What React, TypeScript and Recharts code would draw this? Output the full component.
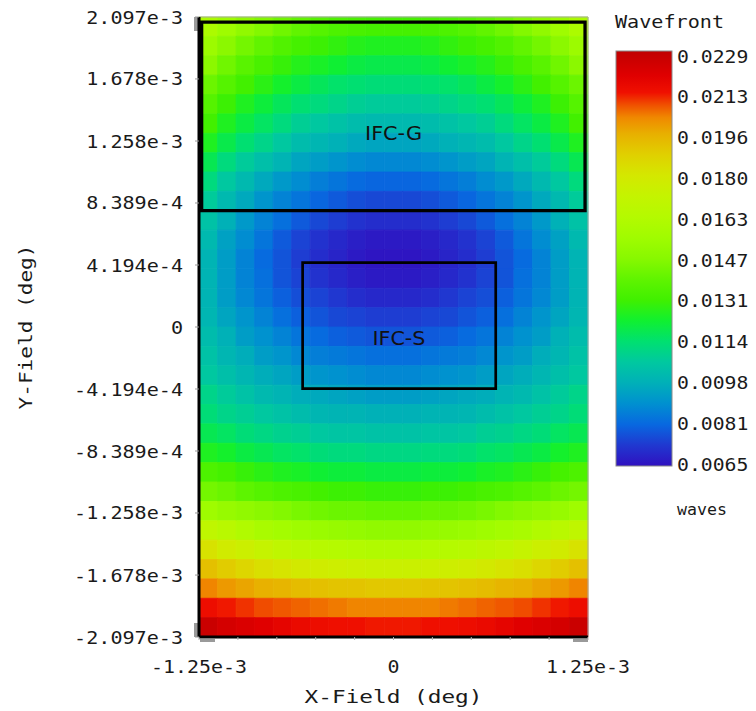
import React from 'react';
import { ScatterChart, XAxis, YAxis, ReferenceArea, ReferenceDot, Customized } from 'recharts';

// field extent (deg)
const X_MIN = -1.25e-3;
const X_MAX = 1.25e-3;
const Y_MIN = -2.097e-3;
const Y_MAX = 2.097e-3;

const X_TICKS = [-1.25e-3, -1.0e-3, -0.75e-3, -0.5e-3, -0.25e-3, 0, 0.25e-3, 0.5e-3, 0.75e-3, 1.0e-3, 1.25e-3];
const X_TICK_LABELS = ['-1.25e-3', '', '', '', '', '0', '', '', '', '', '1.25e-3'];
const Y_TICKS = [2.097e-3, 1.678e-3, 1.258e-3, 8.389e-4, 4.194e-4, 0, -4.194e-4, -8.389e-4, -1.258e-3, -1.678e-3, -2.097e-3];
const Y_TICK_LABELS = ['2.097e-3', '1.678e-3', '1.258e-3', '8.389e-4', '4.194e-4', '0', '-4.194e-4', '-8.389e-4', '-1.258e-3', '-1.678e-3', '-2.097e-3'];

// wavefront error in units of 1e-4 waves, rows top -> bottom, columns left -> right
const WAVEFRONT_E4: number[][] = [
  [160, 155, 150, 146, 142, 139, 136, 134, 133, 132, 132, 132, 133, 134, 136, 139, 142, 146, 150, 155, 160],
  [154, 148, 143, 139, 135, 132, 130, 128, 126, 125, 125, 125, 126, 128, 130, 132, 135, 139, 143, 148, 154],
  [148, 142, 137, 133, 129, 126, 124, 122, 120, 119, 119, 119, 120, 122, 124, 126, 129, 133, 137, 142, 148],
  [141, 136, 131, 127, 123, 120, 117, 115, 114, 113, 113, 113, 114, 115, 117, 120, 123, 127, 131, 136, 141],
  [136, 130, 125, 121, 117, 114, 112, 110, 108, 107, 107, 107, 108, 110, 112, 114, 117, 121, 125, 130, 136],
  [131, 125, 120, 116, 112, 108, 106, 104, 102, 101, 101, 101, 102, 104, 106, 108, 112, 116, 120, 125, 131],
  [125, 119, 114, 110, 106, 102, 100, 98, 96, 95, 95, 95, 96, 98, 100, 102, 106, 110, 114, 119, 125],
  [118, 112, 107, 103, 99, 95, 93, 91, 89, 88, 88, 88, 89, 91, 93, 95, 99, 103, 107, 112, 118],
  [112, 106, 101, 96, 92, 89, 86, 84, 82, 81, 81, 81, 82, 84, 86, 89, 92, 96, 101, 106, 112],
  [107, 101, 96, 91, 87, 84, 81, 79, 77, 76, 76, 76, 77, 79, 81, 84, 87, 91, 96, 101, 107],
  [104, 98, 92, 87, 83, 79, 76, 74, 72, 71, 71, 71, 72, 74, 76, 79, 83, 87, 92, 98, 104],
  [101, 94, 89, 84, 79, 75, 72, 70, 68, 67, 67, 67, 68, 70, 72, 75, 79, 84, 89, 94, 101],
  [99, 93, 87, 82, 78, 74, 71, 69, 67, 66, 66, 66, 67, 69, 71, 74, 78, 82, 87, 93, 99],
  [99, 93, 87, 83, 78, 75, 72, 70, 68, 67, 67, 67, 68, 70, 72, 75, 78, 83, 87, 93, 99],
  [99, 93, 88, 84, 80, 77, 75, 73, 71, 70, 70, 70, 71, 73, 75, 77, 80, 84, 88, 93, 99],
  [100, 95, 91, 87, 83, 80, 78, 76, 75, 74, 74, 74, 75, 76, 78, 80, 83, 87, 91, 95, 100],
  [102, 98, 93, 90, 87, 84, 82, 80, 79, 78, 78, 78, 79, 80, 82, 84, 87, 90, 93, 98, 102],
  [104, 100, 97, 93, 91, 88, 86, 85, 84, 83, 83, 83, 84, 85, 86, 88, 91, 93, 97, 100, 104],
  [106, 103, 100, 97, 95, 93, 91, 90, 89, 88, 88, 88, 89, 90, 91, 93, 95, 97, 100, 103, 106],
  [110, 107, 104, 101, 99, 97, 96, 95, 94, 93, 93, 93, 94, 95, 96, 97, 99, 101, 104, 107, 110],
  [113, 110, 108, 106, 104, 102, 100, 99, 99, 98, 98, 98, 99, 99, 100, 102, 104, 106, 108, 110, 113],
  [118, 116, 113, 111, 109, 108, 106, 105, 105, 104, 104, 104, 105, 105, 106, 108, 109, 111, 113, 116, 118],
  [125, 123, 120, 118, 116, 115, 113, 112, 112, 111, 111, 111, 112, 112, 113, 115, 116, 118, 120, 123, 125],
  [134, 132, 129, 127, 125, 124, 122, 121, 121, 120, 120, 120, 121, 121, 122, 124, 125, 127, 129, 132, 134],
  [143, 141, 138, 136, 134, 133, 131, 130, 130, 129, 129, 129, 130, 130, 131, 133, 134, 136, 138, 141, 143],
  [155, 152, 150, 148, 146, 144, 142, 141, 141, 140, 140, 140, 141, 141, 142, 144, 146, 148, 150, 152, 155],
  [169, 166, 162, 159, 157, 155, 153, 152, 151, 150, 150, 150, 151, 152, 153, 155, 157, 159, 162, 166, 169],
  [182, 178, 175, 172, 169, 167, 165, 164, 163, 162, 162, 162, 163, 164, 165, 167, 169, 172, 175, 178, 182],
  [192, 189, 186, 183, 181, 179, 177, 176, 175, 174, 174, 174, 175, 176, 177, 179, 181, 183, 186, 189, 192],
  [203, 200, 198, 196, 195, 193, 192, 191, 191, 190, 190, 190, 191, 191, 192, 193, 195, 196, 198, 200, 203],
  [214, 212, 210, 208, 207, 206, 205, 204, 203, 203, 203, 203, 203, 204, 205, 206, 207, 208, 210, 212, 214],
  [226, 223, 221, 219, 217, 215, 214, 213, 213, 212, 212, 212, 213, 213, 214, 215, 217, 219, 221, 223, 226],
];

const WAVE_MIN = 0.0065;
const WAVE_MAX = 0.0229;
const LEGEND_LABELS = ['0.0229', '0.0213', '0.0196', '0.0180', '0.0163', '0.0147', '0.0131', '0.0114', '0.0098', '0.0081', '0.0065'];

// field regions drawn on top of the map
const REGION_NAMES = ['IFC-G', 'IFC-S'];
const REGION_X = [[-1.233e-3, 1.231e-3], [-0.584e-3, 0.657e-3]];
const REGION_Y = [[0.787e-3, 2.062e-3], [-0.417e-3, 0.435e-3]];
const REGION_LABEL_AT = [[0, 1.319e-3], [0.035e-3, -0.068e-3]];

const COLOR_STOPS: [number, string][] = [
  [0.0, '#3010c0'],
  [0.05, '#2038d0'],
  [0.1, '#0868e0'],
  [0.15, '#0090d0'],
  [0.2, '#00b0b8'],
  [0.25, '#00c8a0'],
  [0.3, '#00e070'],
  [0.35, '#10f030'],
  [0.4, '#40f000'],
  [0.45, '#60f400'],
  [0.5, '#88f800'],
  [0.55, '#a0fc00'],
  [0.6, '#b4fa00'],
  [0.65, '#c4f400'],
  [0.7, '#d4e800'],
  [0.75, '#e0d000'],
  [0.8, '#e8b000'],
  [0.84, '#f08800'],
  [0.87, '#f05000'],
  [0.9, '#f01000'],
  [0.94, '#e00000'],
  [1.0, '#c00000'],
];

const hex = (c: string) => [1, 3, 5].map((k) => parseInt(c.slice(k, k + 2), 16));

function waveColor(v: number) {
  const t = Math.min(1, Math.max(0, (v - WAVE_MIN) / (WAVE_MAX - WAVE_MIN)));
  for (let k = 1; k < COLOR_STOPS.length; k++) {
    const [t1, c1] = COLOR_STOPS[k];
    if (t <= t1) {
      const [t0, c0] = COLOR_STOPS[k - 1];
      const f = (t - t0) / (t1 - t0);
      const a = hex(c0);
      const b = hex(c1);
      const rgb = a.map((q, n) => Math.round(q + (b[n] - q) * f));
      return `rgb(${rgb[0]},${rgb[1]},${rgb[2]})`;
    }
  }
  return COLOR_STOPS[COLOR_STOPS.length - 1][1];
}

const NX = WAVEFRONT_E4[0].length;
const NY = WAVEFRONT_E4.length;
const cells = WAVEFRONT_E4.flatMap((row, j) =>
  row.map((v, i) => ({
    x1: X_MIN + (i * (X_MAX - X_MIN)) / NX,
    x2: X_MIN + ((i + 1) * (X_MAX - X_MIN)) / NX,
    y1: Y_MAX - (j * (Y_MAX - Y_MIN)) / NY,
    y2: Y_MAX - ((j + 1) * (Y_MAX - Y_MIN)) / NY,
    color: waveColor(v * 1e-4),
  }))
);

const MONO = 'DejaVu Sans Mono';

const YTick = (props: any) => {
  const { x, y, payload } = props;
  const i = Y_TICKS.findIndex((t) => Math.abs(t - payload.value) < 1e-9);
  const label = Y_TICK_LABELS[i] ?? '';
  return (
    <text x={x - 12} y={y + 6.5} textAnchor="end" fontFamily={MONO} fontSize={18} fill="#1a1a1a"
      textLength={label.length * 12.1} lengthAdjust="spacingAndGlyphs">
      {label}
    </text>
  );
};

const XTick = (props: any) => {
  const { x, y, payload } = props;
  const i = X_TICKS.findIndex((t) => Math.abs(t - payload.value) < 1e-9);
  const label = X_TICK_LABELS[i] ?? '';
  if (!label) return <g />;
  return (
    <text x={x} y={y + 33} textAnchor="middle" fontFamily={MONO} fontSize={18} fill="#1a1a1a"
      textLength={label.length * 12} lengthAdjust="spacingAndGlyphs">
      {label}
    </text>
  );
};

const XTitle = (props: any) => {
  const { viewBox } = props;
  return (
    <text x={viewBox.x + viewBox.width / 2} y={viewBox.y + 66} textAnchor="middle" fontFamily={MONO}
      fontSize={17} fill="#1a1a1a" textLength={178} lengthAdjust="spacingAndGlyphs">
      X-Field (deg)
    </text>
  );
};

const YTitle = (props: any) => {
  const { viewBox } = props;
  const cy = viewBox.y + viewBox.height / 2;
  return (
    <text x={32} y={cy} transform={`rotate(-90, 32, ${cy})`} textAnchor="middle" fontFamily={MONO}
      fontSize={18} fill="#1a1a1a" textLength={165} lengthAdjust="spacingAndGlyphs">
      Y-Field (deg)
    </text>
  );
};

const Colorbar = () => {
  const top = 51;
  const height = 415;
  const step = (464 - 56) / (LEGEND_LABELS.length - 1);
  return (
    <g>
      <defs>
        <linearGradient id="waveGrad" x1="0" y1="1" x2="0" y2="0">
          {COLOR_STOPS.map(([t, c]) => (
            <stop key={t} offset={t} stopColor={c} />
          ))}
        </linearGradient>
      </defs>
      <text x={615} y={28} fontFamily={MONO} fontSize={17} fill="#1a1a1a" textLength={109} lengthAdjust="spacingAndGlyphs">
        Wavefront
      </text>
      <rect x={616} y={top} width={56} height={height} fill="url(#waveGrad)" stroke="#8a8a8a" strokeWidth={1} />
      {LEGEND_LABELS.map((l, k) => (
        <text key={l} x={677} y={56 + k * step + 6.5} fontFamily={MONO} fontSize={17} fill="#1a1a1a"
          textLength={l.length * 11.9} lengthAdjust="spacingAndGlyphs">
          {l}
        </text>
      ))}
      <text x={677} y={515} fontFamily={MONO} fontSize={15} fill="#1a1a1a" textLength={50} lengthAdjust="spacingAndGlyphs">
        waves
      </text>
      {/* little grey axis handles */}
      <rect x={194} y={17} width={4} height={14} fill="#9a9a9a" />
      <rect x={194} y={623} width={4} height={14} fill="#9a9a9a" />
      <rect x={200} y={639} width={15} height={3} fill="#9a9a9a" />
      <rect x={573} y={639} width={15} height={3} fill="#9a9a9a" />
    </g>
  );
};

export default function App() {
  return (
    <div style={{ position: 'absolute', left: 0, top: 0, width: 756, height: 711, background: '#fff' }}>
      <ScatterChart width={756} height={711} margin={{ top: 17, right: 168, bottom: 0, left: 0 }}>
        <XAxis type="number" dataKey="x" domain={[X_MIN, X_MAX]} ticks={X_TICKS} interval={0} height={74}
          allowDataOverflow tick={<XTick />} tickSize={3} tickMargin={0}
          axisLine={{ stroke: '#000', strokeWidth: 3 }} tickLine={{ stroke: '#b0b0b0' }} label={<XTitle />} />
        <YAxis type="number" dataKey="y" domain={[Y_MIN, Y_MAX]} ticks={Y_TICKS} interval={0} width={199}
          allowDataOverflow tick={<YTick />} tickSize={4} tickMargin={0}
          axisLine={{ stroke: '#000', strokeWidth: 3 }} tickLine={{ stroke: '#999' }} label={<YTitle />} />
        {cells.map((c, k) => (
          <ReferenceArea key={`c${k}`} x1={c.x1} x2={c.x2} y1={c.y2} y2={c.y1} fill={c.color} fillOpacity={1}
            stroke={c.color} strokeWidth={0.8} ifOverflow="visible" />
        ))}
        <ReferenceArea x1={X_MIN} x2={X_MAX} y1={Y_MIN} y2={Y_MAX} fill="none" stroke="#a8a8a8" strokeWidth={1} ifOverflow="visible" />
        {REGION_NAMES.map((name, k) => (
          <ReferenceArea key={name} x1={REGION_X[k][0]} x2={REGION_X[k][1]} y1={REGION_Y[k][0]} y2={REGION_Y[k][1]}
            fill="none" stroke="#000" strokeWidth={k === 0 ? 3.3 : 2.7} ifOverflow="visible" />
        ))}
        {REGION_NAMES.map((name, k) => (
          <ReferenceDot key={`l${name}`} x={REGION_LABEL_AT[k][0]} y={REGION_LABEL_AT[k][1]} r={0} ifOverflow="visible"
            shape={(p: any) => (
              <text x={p.cx} y={p.cy + 7.5} textAnchor="middle" fontFamily="DejaVu Sans" fontSize={19} fill="#111"
                textLength={name === 'IFC-G' ? 57 : 53} lengthAdjust="spacingAndGlyphs">
                {name}
              </text>
            )} />
        ))}
        <Customized component={Colorbar} />
      </ScatterChart>
    </div>
  );
}
